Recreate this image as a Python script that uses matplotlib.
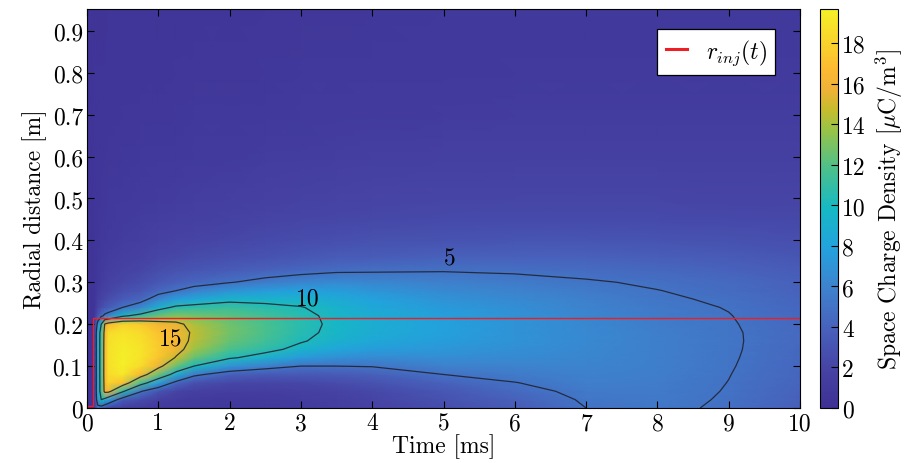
import numpy as np
import matplotlib
matplotlib.use("Agg")
import matplotlib.pyplot as plt
from matplotlib.colors import LinearSegmentedColormap

# ---------------- data ----------------
t_ms = [0.0, 0.1, 0.15, 0.2, 0.25, 0.3, 0.5, 0.75, 1.0, 1.25, 1.5, 2.0, 2.5,
        3.0, 3.5, 4.0, 5.0, 6.0, 7.0, 8.0, 9.0, 10.0]
r_m = [0.0, 0.02, 0.04, 0.06, 0.08, 0.10, 0.12, 0.14, 0.16, 0.18, 0.20, 0.22,
       0.24, 0.26, 0.28, 0.30, 0.33, 0.36, 0.40, 0.45, 0.50, 0.60, 0.70, 0.80, 0.95]

# space charge density [uC/m^3]; one profile (over r_m) per time in t_ms
rho_t000 = [0.4, 0.4, 0.4, 0.4, 0.4, 0.4, 0.4, 0.4, 0.4, 0.4, 0.4, 0.4, 0.4, 0.4, 0.4, 0.4, 0.4, 0.4, 0.4, 0.4, 0.4, 0.4, 0.4, 0.4, 0.4]
rho_t010 = [0.5, 0.5, 0.5, 0.5, 0.5, 0.5, 0.5, 0.5, 0.5, 0.5, 0.5, 0.5, 0.5, 0.5, 0.5, 0.5, 0.5, 0.5, 0.5, 0.5, 0.5, 0.5, 0.5, 0.5, 0.45]
rho_t015 = [4.0, 7.0, 8.0, 8.0, 8.0, 8.0, 8.0, 8.0, 8.0, 8.0, 6.0, 3.0, 2.0, 1.5, 1.2, 1.0, 0.9, 0.8, 0.7, 0.65, 0.6, 0.55, 0.5, 0.5, 0.45]
rho_t020 = [3.5, 10.0, 11.3, 11.3, 11.4, 11.4, 11.4, 11.4, 11.4, 11.3, 10.0, 4.5, 2.6, 1.9, 1.5, 1.3, 1.1, 1.0, 0.85, 0.75, 0.7, 0.6, 0.55, 0.5, 0.45]
rho_t025 = [2.5, 9.0, 16.0, 16.3, 16.5, 16.5, 16.5, 16.5, 16.4, 16.2, 15.2, 5.5, 3.2, 2.3, 1.8, 1.5, 1.25, 1.1, 0.95, 0.85, 0.75, 0.65, 0.55, 0.5, 0.45]
rho_t030 = [2.0, 7.5, 16.0, 18.0, 18.5, 18.7, 18.8, 18.8, 18.7, 18.5, 16.5, 6.0, 3.5, 2.6, 2.0, 1.7, 1.4, 1.25, 1.05, 0.95, 0.85, 0.7, 0.6, 0.55, 0.5]
rho_t050 = [1.5, 3.5, 10.5, 17.0, 19.2, 19.6, 19.6, 19.5, 19.3, 19.0, 18.0, 9.5, 5.0, 3.5, 2.7, 2.2, 1.8, 1.5, 1.25, 1.1, 1.0, 0.8, 0.65, 0.55, 0.5]
rho_t075 = [1.2, 2.5, 5.2, 11.5, 16.5, 18.5, 19.0, 19.0, 18.8, 18.5, 17.5, 11.0, 6.2, 4.2, 3.2, 2.6, 2.1, 1.75, 1.45, 1.25, 1.1, 0.9, 0.7, 0.6, 0.5]
rho_t100 = [1.0, 1.6, 3.0, 7.5, 12.5, 15.8, 17.3, 17.6, 17.5, 17.2, 16.2, 12.5, 9.0, 6.0, 4.2, 3.3, 2.6, 2.1, 1.7, 1.4, 1.2, 0.95, 0.75, 0.6, 0.5]
rho_t125 = [0.9, 1.3, 2.0, 4.2, 8.8, 12.5, 14.8, 15.9, 16.3, 16.3, 15.6, 13.2, 10.5, 7.5, 5.0, 3.8, 2.9, 2.3, 1.85, 1.5, 1.3, 1.0, 0.8, 0.65, 0.5]
rho_t150 = [0.8, 1.1, 1.6, 2.8, 5.5, 10.0, 12.5, 13.8, 14.4, 14.6, 14.2, 12.8, 10.8, 8.3, 5.8, 4.2, 3.1, 2.5, 2.0, 1.6, 1.4, 1.05, 0.85, 0.7, 0.55]
rho_t200 = [0.8, 1.0, 1.4, 2.2, 3.8, 7.0, 10.3, 11.8, 12.5, 12.8, 12.7, 12.2, 11.2, 9.3, 7.0, 4.9, 3.5, 2.8, 2.2, 1.8, 1.5, 1.15, 0.9, 0.75, 0.6]
rho_t250 = [0.9, 1.1, 1.4, 2.1, 3.4, 5.8, 9.0, 10.7, 11.4, 11.7, 11.7, 11.4, 10.6, 9.3, 7.5, 5.6, 3.9, 3.0, 2.4, 1.95, 1.65, 1.25, 1.0, 0.8, 0.65]
rho_t300 = [1.1, 1.3, 1.6, 2.2, 3.4, 5.0, 7.4, 9.3, 10.2, 10.5, 10.6, 10.5, 10.1, 9.2, 7.8, 6.1, 4.3, 3.3, 2.6, 2.1, 1.8, 1.35, 1.05, 0.85, 0.7]
rho_t350 = [1.4, 1.6, 1.9, 2.5, 3.5, 5.0, 6.7, 8.2, 9.1, 9.5, 9.6, 9.5, 9.2, 8.6, 7.6, 6.4, 4.6, 3.5, 2.75, 2.2, 1.9, 1.45, 1.1, 0.9, 0.75]
rho_t400 = [1.8, 2.0, 2.3, 2.9, 3.8, 5.1, 6.4, 7.6, 8.4, 8.7, 8.8, 8.7, 8.4, 7.9, 7.1, 6.2, 4.7, 3.6, 2.85, 2.3, 2.0, 1.5, 1.15, 0.95, 0.8]
rho_t500 = [2.6, 2.9, 3.3, 4.0, 5.0, 5.9, 6.6, 7.2, 7.6, 7.8, 7.8, 7.7, 7.4, 7.0, 6.4, 5.8, 4.85, 3.9, 3.0, 2.4, 2.05, 1.55, 1.2, 1.0, 0.85]
rho_t600 = [3.5, 3.9, 4.4, 4.95, 5.5, 6.0, 6.4, 6.7, 6.95, 7.0, 7.0, 6.9, 6.7, 6.35, 5.95, 5.5, 4.75, 3.9, 3.1, 2.45, 2.1, 1.6, 1.25, 1.05, 0.9]
rho_t700 = [5.0, 5.2, 5.45, 5.7, 5.9, 6.05, 6.2, 6.3, 6.35, 6.35, 6.3, 6.2, 6.0, 5.8, 5.5, 5.15, 4.55, 3.85, 3.1, 2.45, 2.1, 1.6, 1.25, 1.05, 0.9]
rho_t800 = [5.3, 5.4, 5.5, 5.6, 5.65, 5.7, 5.75, 5.75, 5.75, 5.7, 5.6, 5.5, 5.35, 5.2, 5.03, 4.8, 4.35, 3.75, 3.05, 2.45, 2.1, 1.6, 1.25, 1.05, 0.9]
rho_t900 = [4.8, 4.87, 4.93, 4.98, 5.03, 5.08, 5.12, 5.15, 5.16, 5.15, 5.1, 5.04, 4.95, 4.8, 4.6, 4.4, 4.0, 3.5, 2.9, 2.35, 2.0, 1.55, 1.25, 1.05, 0.9]
rho_t1000 = [3.8, 3.9, 4.0, 4.1, 4.2, 4.28, 4.33, 4.37, 4.4, 4.4, 4.38, 4.33, 4.25, 4.13, 4.0, 3.85, 3.55, 3.2, 2.75, 2.3, 2.0, 1.55, 1.25, 1.05, 0.9]

rho_columns = [rho_t000, rho_t010, rho_t015, rho_t020, rho_t025, rho_t030, rho_t050,
               rho_t075, rho_t100, rho_t125, rho_t150, rho_t200, rho_t250, rho_t300,
               rho_t350, rho_t400, rho_t500, rho_t600, rho_t700, rho_t800, rho_t900,
               rho_t1000]

contour_levels = [5, 10, 15]
contour_label_text = ["15", "10", "5"]
contour_label_t = [1.17, 3.09, 5.09]
contour_label_r = [0.166, 0.262, 0.357]

rinj_t = [0.0, 0.09, 0.09, 10.0]
rinj_r = [0.005, 0.005, 0.214, 0.214]

x_ticks = [0, 1, 2, 3, 4, 5, 6, 7, 8, 9, 10]
x_ticklabels = ["0", "1", "2", "3", "4", "5", "6", "7", "8", "9", "10"]
y_ticks = [0, 0.1, 0.2, 0.3, 0.4, 0.5, 0.6, 0.7, 0.8, 0.9]
y_ticklabels = ["0", "0.1", "0.2", "0.3", "0.4", "0.5", "0.6", "0.7", "0.8", "0.9"]
cbar_ticks = [0, 2, 4, 6, 8, 10, 12, 14, 16, 18]
cbar_ticklabels = ["0", "2", "4", "6", "8", "10", "12", "14", "16", "18"]
clim = (0.0, 19.7)

# ---------------- style ----------------
cmap_pos = [0.0, 0.1, 0.2, 0.3, 0.4, 0.5, 0.6, 0.7, 0.75, 0.8, 0.85, 0.9, 1.0]
cmap_rgb = [(62, 48, 148), (70, 68, 165), (72, 98, 188), (62, 130, 205),
            (35, 162, 222), (22, 185, 195), (75, 192, 140), (155, 195, 70),
            (200, 188, 45), (240, 178, 55), (252, 185, 50), (250, 205, 45),
            (245, 240, 40)]
cmap = LinearSegmentedColormap.from_list(
    "parula_like", [(p, tuple(c / 255 for c in rgb)) for p, rgb in zip(cmap_pos, cmap_rgb)],
    N=256)

plt.rcParams["font.family"] = ["cmr10", "DejaVu Serif"]
plt.rcParams["mathtext.fontset"] = "cm"
plt.rcParams["axes.formatter.use_mathtext"] = True
FS = 17

fig = plt.figure(figsize=(9.05, 4.64), dpi=100)
ax = fig.add_axes([87 / 905, 55 / 464, 713 / 905, 399 / 464])
cax = fig.add_axes([820 / 905, 55 / 464, 18 / 905, 399 / 464])

T, R = np.meshgrid(np.array(t_ms), np.array(r_m))
Z = np.array(rho_columns).T

mesh = ax.pcolormesh(T, R, Z, shading="gouraud", cmap=cmap,
                     vmin=clim[0], vmax=clim[1], rasterized=True)
ax.contour(T, R, Z, levels=contour_levels, colors=[(0.12, 0.12, 0.16)],
           linewidths=0.9, alpha=0.85)
for txt, tx, ty in zip(contour_label_text, contour_label_t, contour_label_r):
    ax.text(tx, ty, txt, fontsize=FS, ha="center", va="center", color="k")

ax.plot(rinj_t, rinj_r, color=(0.93, 0.12, 0.14), lw=1.0, label=r"$r_{inj}(t)$")

ax.set_xlim(0, 10)
ax.set_ylim(0, 0.952)
ax.set_xticks(x_ticks)
ax.set_xticklabels(x_ticklabels)
ax.set_yticks(y_ticks)
ax.set_yticklabels(y_ticklabels)
ax.tick_params(direction="in", length=5, width=0.8, top=True, right=True,
               labelsize=FS, pad=3)
for s in ax.spines.values():
    s.set_linewidth(0.8)
ax.set_xlabel("Time [ms]", fontsize=FS, labelpad=-1)
ax.set_ylabel("Radial distance [m]", fontsize=FS, labelpad=4)

leg = ax.legend(loc="upper right", bbox_to_anchor=(0.965, 0.95), borderaxespad=0,
                fontsize=FS, fancybox=False, framealpha=1, edgecolor="k",
                handlelength=0.9, handletextpad=0.8, borderpad=0.35)
leg.get_frame().set_linewidth(0.9)
for line in leg.get_lines():
    line.set_linewidth(2.2)

cb = fig.colorbar(mesh, cax=cax, ticks=cbar_ticks)
cb.ax.set_yticklabels(cbar_ticklabels)
cb.ax.tick_params(direction="in", length=5, width=0.8, labelsize=FS, pad=3)
cb.outline.set_linewidth(0.8)
cb.set_label(r"Space Charge Density [$\mu$C/m$^3$]", fontsize=FS, labelpad=6)

fig.savefig("out.png", dpi=100)
